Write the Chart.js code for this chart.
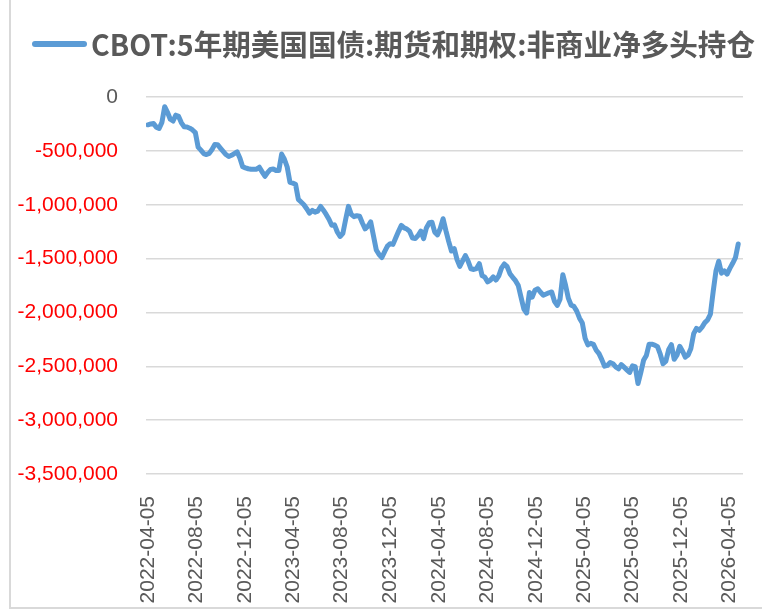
<!DOCTYPE html>
<html><head><meta charset="utf-8">
<script src="https://cdn.jsdelivr.net/npm/chart.js@4.4.1/dist/chart.umd.min.js"></script>
<style>html,body{margin:0;padding:0;background:#fff}canvas{display:block}</style>
</head><body>
<canvas id="c" width="762" height="611"></canvas>
<script>
const seriesName = 'CBOT:5年期美国国债:期货和期权:非商业净多头持仓';
const startDate = '2022-04-05'; // first weekly observation
const values = [
-258000,-250000,-247000,-280000,-292000,-236000,-90000,-142000,-206000,-223000,
-169000,-180000,-240000,-276000,-279000,-290000,-306000,-330000,-465000,-493000,
-525000,-534000,-523000,-487000,-442000,-443000,-474000,-504000,-534000,-552000,
-541000,-525000,-509000,-566000,-647000,-658000,-666000,-670000,-670000,-670000,
-652000,-695000,-736000,-700000,-672000,-668000,-682000,-682000,-530000,-578000,
-650000,-793000,-800000,-810000,-950000,-975000,-1000000,-1037000,-1078000,-1053000,
-1069000,-1059000,-1016000,-1051000,-1090000,-1135000,-1191000,-1187000,-1253000,-1295000,
-1266000,-1136000,-1015000,-1090000,-1111000,-1102000,-1107000,-1170000,-1224000,-1200000,
-1160000,-1291000,-1420000,-1463000,-1490000,-1435000,-1385000,-1362000,-1368000,-1307000,
-1247000,-1192000,-1215000,-1226000,-1248000,-1310000,-1313000,-1286000,-1245000,-1315000,
-1216000,-1168000,-1163000,-1255000,-1280000,-1218000,-1130000,-1240000,-1340000,-1430000,
-1407000,-1510000,-1572000,-1522000,-1472000,-1525000,-1595000,-1601000,-1593000,-1547000,
-1658000,-1673000,-1716000,-1700000,-1670000,-1699000,-1661000,-1586000,-1550000,-1575000,
-1640000,-1674000,-1705000,-1750000,-1860000,-1968000,-2005000,-1814000,-1858000,-1793000,
-1780000,-1813000,-1840000,-1829000,-1818000,-1810000,-1897000,-1935000,-1878000,-1650000,
-1750000,-1870000,-1933000,-1944000,-1988000,-2053000,-2098000,-2240000,-2301000,-2287000,
-2297000,-2351000,-2383000,-2438000,-2499000,-2492000,-2465000,-2476000,-2505000,-2523000,
-2484000,-2508000,-2533000,-2557000,-2496000,-2503000,-2660000,-2560000,-2445000,-2400000,
-2295000,-2295000,-2303000,-2318000,-2388000,-2477000,-2452000,-2347000,-2300000,-2435000,
-2397000,-2315000,-2360000,-2415000,-2395000,-2334000,-2197000,-2148000,-2166000,-2136000,
-2095000,-2070000,-2017000,-1807000,-1615000,-1525000,-1636000,-1614000,-1645000,-1591000,
-1544000,-1492000,-1365000
];
const xTickLabels = ['2022-04-05','2022-08-05','2022-12-05','2023-04-05','2023-08-05','2023-12-05',
  '2024-04-05','2024-08-05','2024-12-05','2025-04-05','2025-08-05','2025-12-05','2026-04-05'];
const yTickValues = [0,-500000,-1000000,-1500000,-2000000,-2500000,-3000000,-3500000];

function dayNum(s){const p=s.split('-').map(Number);return Date.UTC(p[0],p[1]-1,p[2])/86400000;}
function dayStr(n){return new Date(Math.round(n)*86400000).toISOString().slice(0,10);}
const d0 = dayNum(startDate);
const points = values.map((v,i)=>({x:d0+7*i,y:v}));

const tickFont = {family:'"Liberation Sans", Arial, sans-serif', size:21};

const frame = {
  id:'frame',
  beforeDraw(chart){
    const ctx=chart.ctx; ctx.save();
    ctx.fillStyle='#fff'; ctx.fillRect(0,0,chart.width,chart.height);
    ctx.strokeStyle='#d9d9d9'; ctx.lineWidth=2;
    ctx.strokeRect(10,-5,chart.width+20,613);
    ctx.restore();
  }
};
const legendDraw = {
  id:'legendDraw',
  afterDraw(chart){
    const ctx=chart.ctx, ds=chart.data.datasets[0]; ctx.save();
    ctx.strokeStyle=ds.borderColor; ctx.lineWidth=6; ctx.lineCap='round';
    ctx.beginPath(); ctx.moveTo(35,44); ctx.lineTo(84,44); ctx.stroke();
    ctx.fillStyle='#595959'; ctx.font='bold 29px "Noto Sans CJK SC", sans-serif';
    ctx.textBaseline='middle'; ctx.textAlign='left';
    ctx.fillText(ds.label,91,45,664);
    ctx.restore();
  }
};

new Chart(document.getElementById('c'),{
  type:'line',
  data:{datasets:[{label:seriesName,data:points,borderColor:'#5b9bd5',borderWidth:5,
    pointRadius:0,tension:0,borderJoinStyle:'round',borderCapStyle:'round',fill:false}]},
  options:{
    responsive:false,animation:false,devicePixelRatio:1,
    layout:{padding:{left:0,top:97,right:19,bottom:0}},
    plugins:{legend:{display:false},tooltip:{enabled:false}},
    scales:{
      x:{type:'linear',min:d0-5,max:d0+1496,
        grid:{display:false},border:{display:false},
        afterBuildTicks(s){s.ticks=xTickLabels.map(t=>({value:dayNum(t)}));},
        afterFit(s){s.height=137;s.paddingLeft=0;s.paddingRight=0;},
        ticks:{autoSkip:false,minRotation:90,maxRotation:90,padding:14,color:'#595959',font:tickFont,
          callback:(v)=>dayStr(v)}},
      y:{min:-3500000,max:0,
        afterBuildTicks(s){s.ticks=yTickValues.map(v=>({value:v}));},
        afterFit(s){s.width=146;s.paddingTop=0;s.paddingBottom=0;},
        grid:{color:'#d9d9d9',lineWidth:1.5,drawTicks:false},border:{display:false},
        ticks:{padding:28,font:tickFont,
          color:(c)=>c.tick && c.tick.value<0?'#ff0000':'#595959',
          callback:(v)=>Number(v).toLocaleString('en-US')}}
    }
  },
  plugins:[frame,legendDraw]
});
</script>
</body></html>
